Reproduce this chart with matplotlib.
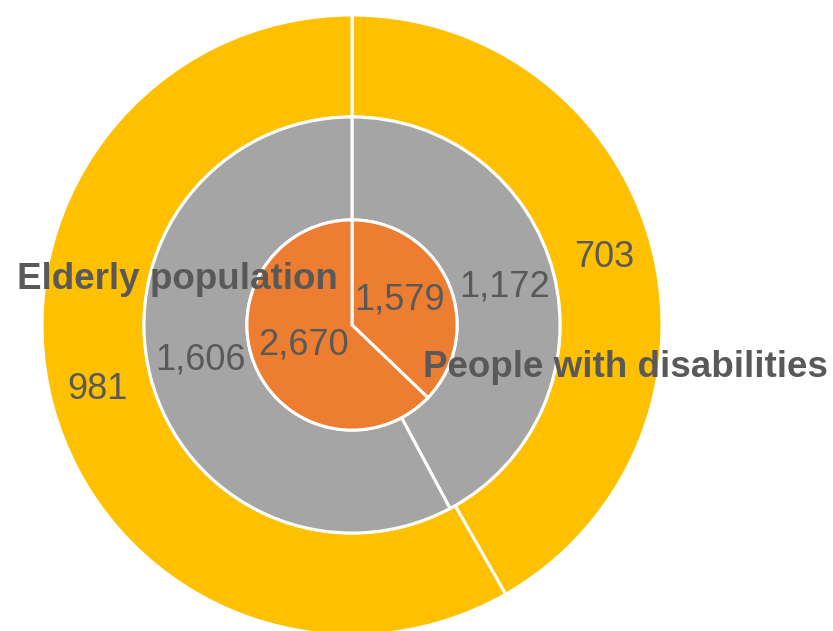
import matplotlib
matplotlib.use("Agg")
import matplotlib.pyplot as plt

categories = ["People with disabilities", "Elderly population"]
inner_vals = [1579, 2670]
middle_vals = [1172, 1606]
outer_vals = [703, 981]

c_inner = "#ED7D31"
c_middle = "#A5A5A5"
c_outer = "#FFC000"
txt = "#595959"

plt.rcParams['font.family'] = ['Liberation Sans', 'DejaVu Sans']

fig = plt.figure(figsize=(8.33, 6.31), dpi=100)
ax = fig.add_axes([0, 0, 1, 1])

wp = dict(edgecolor='white', linewidth=2.2)
ax.pie(outer_vals, radius=1.0, startangle=90, counterclock=False,
       colors=[c_outer, c_outer], wedgeprops=dict(width=0.329, **wp), frame=True)
ax.pie(middle_vals, radius=0.671, startangle=90, counterclock=False,
       colors=[c_middle, c_middle], wedgeprops=dict(width=0.332, **wp), frame=True)
ax.pie(inner_vals, radius=0.339, startangle=90, counterclock=False,
       colors=[c_inner, c_inner], wedgeprops=dict(**wp), frame=True)
ax.set_xlim(-352/310, (833-352)/310)
ax.set_ylim(-(631-325)/310, 325/310)
ax.set_aspect('equal')
ax.axis('off')

def px(x, y):
    return ((x - 352) / 310, (325 - y) / 310)

fs_num = 26
fs_cat = 26.5
label_pos = {
    "inner": [px(400, 300), px(303, 345)],
    "middle": [px(505, 287), px(200, 360)],
    "outer": [px(604, 258), px(97, 390)],
}
for key, vals in [("inner", inner_vals), ("middle", middle_vals), ("outer", outer_vals)]:
    for (x, y), v in zip(label_pos[key], vals):
        ax.text(x, y, f"{v:,}", ha='center', va='center', fontsize=fs_num, color=txt)

cat_pos = [px(625, 368), px(177, 280)]
for (x, y), c in zip(cat_pos, categories):
    ax.text(x, y, c, ha='center', va='center', fontsize=fs_cat, color=txt, fontweight='bold')

fig.savefig("out.png", dpi=100)
